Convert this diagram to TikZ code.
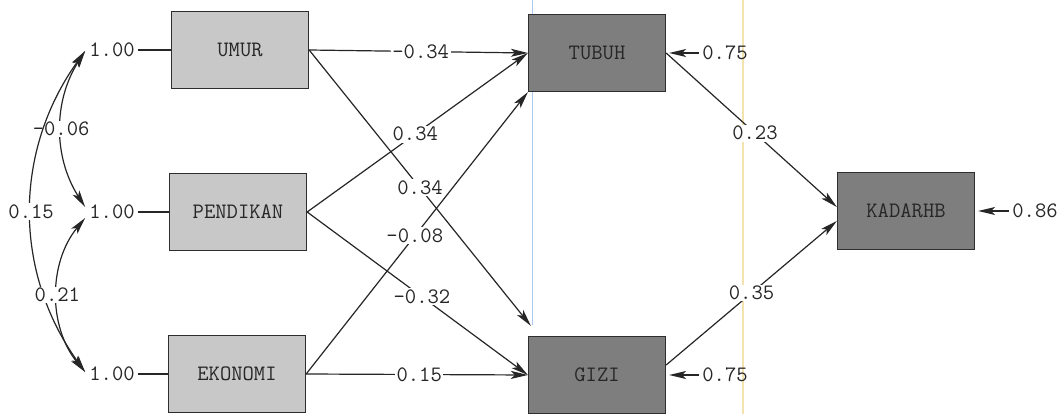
\documentclass[tikz,border=0pt]{standalone}
\usetikzlibrary{arrows.meta,calc}
\definecolor{exofill}{HTML}{C8C8C8}
\definecolor{endofill}{HTML}{7E7E7E}
\definecolor{edgegray}{HTML}{2E2E2E}
\definecolor{guideblue}{HTML}{A9C9F2}
\definecolor{guideyellow}{HTML}{F3E3AE}
\tikzset{
  every node/.style={font=\fontsize{22}{24}\selectfont\ttfamily, text=black!85},
  var/.style={draw=edgegray, line width=1.3pt, minimum width=137pt, minimum height=77pt, inner sep=0pt},
  exo/.style={var, fill=exofill},
  endo/.style={var, fill=endofill},
  coef/.style={fill=white, inner sep=1.5pt},
  plain/.style={inner sep=3pt},
  tip/.style={Stealth[length=17pt,width=8pt,inset=4pt]},
  path/.style={draw=black!85, line width=1.2pt, -{Stealth[length=17pt,width=8pt,inset=4pt]}},
  both/.style={draw=black!85, line width=1.2pt, {Stealth[length=17pt,width=8pt,inset=4pt]}-{Stealth[length=17pt,width=8pt,inset=4pt]}},
  tie/.style={draw=black!85, line width=1.2pt}
}
\begin{document}
\begin{tikzpicture}[x=1pt,y=-1pt]
\useasboundingbox (0,0) rectangle (1061,414);
\fill[white] (0,0) rectangle (1061,414);

% faint vertical guide lines
\draw[guideblue, line width=1pt] (532,0) -- (532,325);
\draw[guideyellow, line width=1.2pt] (743,0) -- (743,414);

% observed variables
\node[exo]  (umur)  at (240,50)  {UMUR};
\node[exo]  (pend)  at (238,212) {PENDIKAN};
\node[exo]  (ekon)  at (237,374) {EKONOMI};
\node[endo] (tubuh) at (597,53)  {TUBUH};
\node[endo] (gizi)  at (597,375) {GIZI};
\node[endo] (kadar) at (906,211) {KADARHB};

% variances of the exogenous variables
\node[plain] (v1) at (112,50)  {1.00};
\node[plain] (v2) at (112,212) {1.00};
\node[plain] (v3) at (112,374) {1.00};
\draw[tie] (v1) -- (umur);
\draw[tie] (v2) -- (pend);
\draw[tie] (v3) -- (ekon);

% covariances
\coordinate (c1) at ($(v1.west)+(-1,1)$);
\coordinate (c2a) at ($(v2.west)+(-1,-5)$);
\coordinate (c2b) at ($(v2.west)+(-1,6)$);
\coordinate (c3) at ($(v3.west)+(-1,-2)$);
\draw[both] (c1) .. controls +(-32,50) and +(-32,-50) .. node[coef,pos=0.5] {-0.06} (c2a);
\draw[both] (c1) .. controls +(-72,100) and +(-72,-100) .. node[coef,pos=0.5] {0.15} (c3);
\draw[both] (c2b) .. controls +(-37,45) and +(-37,-45) .. node[coef,pos=0.5] {0.21} (c3);

% structural paths
\draw[path] (umur.east) -- node[coef,pos=0.51] {-0.34} (tubuh.west);
\draw[path] (umur.east) -- node[coef,pos=0.5] {0.34} ($(gizi.north west)+(3,-10)$);
\draw[path] (pend.east) -- node[coef,pos=0.49] {0.34} (tubuh.west);
\draw[path] (ekon.east) -- node[coef,pos=0.49] {-0.08} (tubuh.south west);
\draw[path] (pend.east) -- node[coef,pos=0.52] {-0.32} (gizi.west);
\draw[path] (ekon.east) -- node[coef,pos=0.51] {0.15} (gizi.west);
\draw[path] (tubuh.east) -- node[coef,pos=0.52] {0.23} ($(kadar.west)+(0,-4)$);
\draw[path] ($(gizi.east)+(0,-10)$) -- node[coef,pos=0.5] {0.35} ($(kadar.west)+(0,10)$);

% error variances
\node[plain] (e1) at (725,53)  {0.75};
\node[plain] (e2) at (725,375) {0.75};
\node[plain] (e3) at (1035,211) {0.86};
\draw[path] (e1.west) -- ($(tubuh.east)+(3,0)$);
\draw[path] (e2.west) -- ($(gizi.east)+(3,0)$);
\draw[path] (e3.west) -- ($(kadar.east)+(3,0)$);
\end{tikzpicture}
\end{document}
